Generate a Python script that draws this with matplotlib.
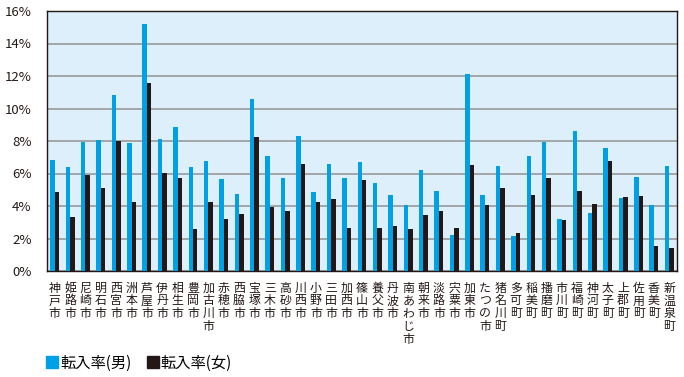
import matplotlib
matplotlib.use("Agg")
import matplotlib.pyplot as plt
from matplotlib.patches import Patch
import numpy as np

plt.rcParams['font.family'] = ['Noto Sans CJK JP', 'DejaVu Sans']

# ---- data ----
towns = ["神戸市", "姫路市", "尼崎市", "明石市", "西宮市", "洲本市", "芦屋市", "伊丹市",
         "相生市", "豊岡市", "加古川市", "赤穂市", "西脇市", "宝塚市", "三木市", "高砂市",
         "川西市", "小野市", "三田市", "加西市", "篠山市", "養父市", "丹波市", "南あわじ市",
         "朝来市", "淡路市", "宍粟市", "加東市", "たつの市", "猪名川町", "多可町", "稲美町",
         "播磨町", "市川町", "福崎町", "神河町", "太子町", "上郡町", "佐用町", "香美町",
         "新温泉町"]

male = [6.84, 6.41, 7.95, 8.07, 10.84, 7.89, 15.17, 8.15, 8.89, 6.41, 6.78, 5.67, 4.75,
        10.60, 7.08, 5.73, 8.32, 4.87, 6.59, 5.73, 6.71, 5.42, 4.68, 4.07, 6.22, 4.93,
        2.22, 12.14, 4.68, 6.47, 2.16, 7.08, 7.95, 3.20, 8.62, 3.57, 7.58, 4.50, 5.79,
        4.07, 6.47]

female = [4.87, 3.33, 5.93, 5.11, 8.01, 4.27, 11.60, 6.04, 5.73, 2.61, 4.27, 3.22, 3.51,
          8.25, 3.94, 3.70, 6.59, 4.25, 4.44, 2.65, 5.61, 2.65, 2.77, 2.59, 3.45, 3.70,
          2.65, 6.53, 4.07, 5.11, 2.34, 4.68, 5.73, 3.14, 4.93, 4.13, 6.78, 4.56, 4.62,
          1.54, 1.42]

yticks = [0, 2, 4, 6, 8, 10, 12, 14, 16]

BLUE = "#00a0e6"
BLACK = "#231815"

fig = plt.figure(figsize=(6.84, 3.77), dpi=100)
ax = fig.add_axes([47 / 684, 1 - 271 / 377, 630 / 684, 260 / 377])
ax.set_facecolor("#ddeffa")

x = np.arange(len(towns))
w = 0.29
ax.bar(x - w / 2, male, width=w, color=BLUE, zorder=3)
ax.bar(x + w / 2, female, width=w, color=BLACK, zorder=3)

ax.set_xlim(-0.5, len(towns) - 0.5)
ax.set_ylim(0, 16)
ax.set_yticks(yticks)
ax.set_yticklabels([f"{t}%" for t in yticks], fontsize=9.5, color="#231815")
ax.yaxis.grid(True, color="#999999", linewidth=1.2, zorder=1)
ax.tick_params(axis="y", length=0, pad=11)
ax.tick_params(axis="x", length=0, pad=0)

ax.set_xticks(x)
ax.set_xticklabels([])
for xi, name in zip(x, towns):
    ax.text(xi, -0.65, "\n".join(name), ha="center", va="top", fontsize=8.6,
            linespacing=0.98, color="#231815")

for s in ax.spines.values():
    s.set_color("#231815")
    s.set_linewidth(1.0)

handles = [Patch(color=BLUE, label="転入率(男)"), Patch(color=BLACK, label="転入率(女)")]
fig.legend(handles=handles, loc="lower left", bbox_to_anchor=(34 / 684, -0.018), ncol=2,
           frameon=False, fontsize=11, handlelength=0.8, handleheight=0.8,
           handletextpad=0.1, columnspacing=1.0, borderaxespad=0.4)

fig.savefig("out.png", dpi=100)
